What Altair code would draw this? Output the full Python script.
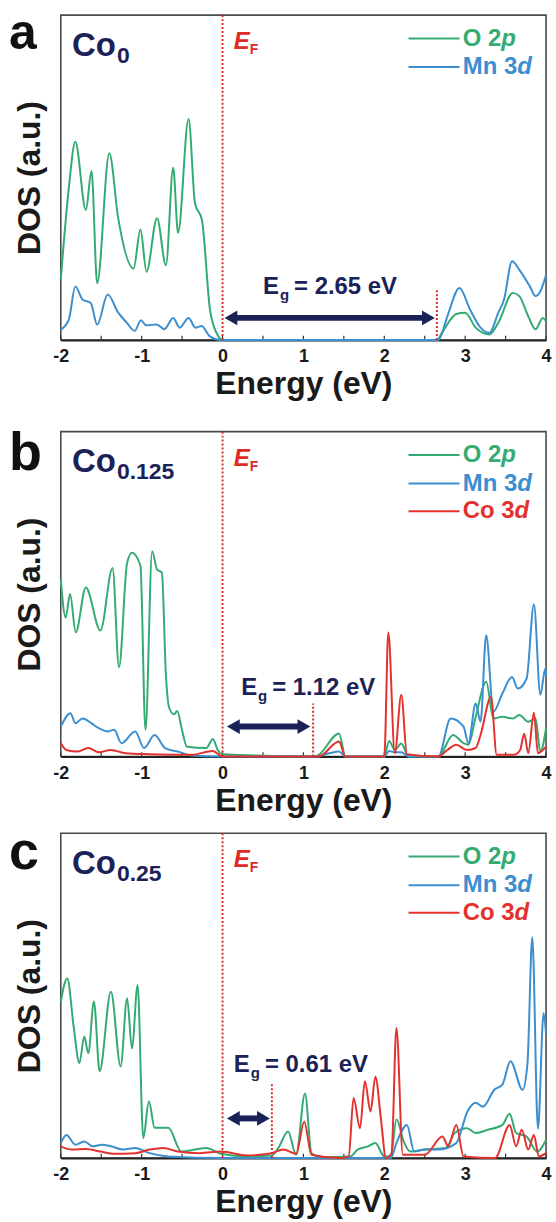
import altair as alt
import pandas as pd

FONT = "Liberation Sans"
NAVY = "#1b2257"
GREEN = "#34ab72"
BLUE = "#3b8fd0"
RED = "#e3322d"
EF_RED = "#e02a26"
SPECIES = ["O 2p", "Mn 3d", "Co 3d"]
SP_COLORS = [GREEN, BLUE, RED]
TICKS = [-2, -1, 0, 1, 2, 3, 4]
MINOR = [-2, -1.5, -1, -0.5, 0, 0.5, 1, 1.5, 2, 2.5, 3, 3.5, 4]

# ---------------- panel a (Co0) ----------------
A_O2P_E = [-2.0, -1.9, -1.82, -1.69, -1.62, -1.55, -1.40, -1.29, -1.10, -1.015, -0.94, -0.81, -0.70, -0.61, -0.55,
           -0.42, -0.34, -0.255, -0.155, -0.07, 0.0, 2.65, 2.72, 2.89, 3.0, 3.13, 3.30, 3.41, 3.59, 3.67, 3.78, 3.87, 3.96, 4.0]
A_O2P_D = [18.6, 47, 61, 40, 52, 17.5, 57.5, 37.5, 22, 34, 21, 37.5, 23, 53, 33,
           68, 42, 37, 9.3, 2, 0, 0, 2.5, 8, 8.4, 3.8, 1.7, 5.3, 14.5, 13.5, 7.3, 3.3, 6.8, 5.8]
A_MN3D_E = [-2.0, -1.9, -1.82, -1.73, -1.63, -1.55, -1.42, -1.29, -1.19, -1.085, -1.01, -0.945, -0.815, -0.72, -0.61,
            -0.53, -0.42, -0.335, -0.26, -0.16, -0.03, 2.67, 2.78, 2.93, 3.06, 3.19, 3.30, 3.41, 3.48, 3.58, 3.67, 3.80,
            3.87, 3.93, 4.0]
A_MN3D_D = [3.2, 6.3, 16.5, 12.4, 11.4, 4.7, 14, 8.4, 5.5, 2.8, 6.1, 4.5, 4.8, 3.3, 6.8,
            3.8, 6.8, 3.8, 4.3, 1.2, 0, 0, 7.3, 16, 9.4, 3.8, 2.2, 8.4, 12.4, 24.2, 21.6, 16.5,
            13.5, 15, 20]

# ---------------- panel b (Co0.125) ----------------
B_O2P_E = [-2.0, -1.94, -1.885, -1.815, -1.69, -1.51, -1.36, -1.28, -1.18, -1.12, -1.015, -0.953, -0.87, -0.81, -0.75,
           -0.70, -0.66, -0.6, -0.56, -0.5, -0.44, -0.2, -0.12, -0.06, 0.0, 1.15, 1.19, 1.44, 1.52, 2.0, 2.06, 2.13,
           2.21, 2.30, 2.67, 2.85, 2.98, 3.04, 3.13, 3.26, 3.35, 3.46, 3.59, 3.67, 3.78, 3.87, 3.93, 4.0]
B_O2P_D = [54.5, 42.8, 50, 38.2, 52, 38.8, 58, 27.5, 59.6, 62.7, 58.7, 8.2, 63.2, 57.6, 56.6,
           25, 15, 13, 14, 8, 3, 2.6, 5.4, 2, 0.7, 0, 0.5, 7.1, 0, 0, 4.8, 2,
           4, 0, 0, 6.6, 4.1, 3.6, 12.2, 23, 11.7, 12.2, 11.7, 12.8, 10.7, 11.7, 1.5, 8.7]
B_MN3D_E = [-2.0, -1.88, -1.82, -1.73, -1.62, -1.53, -1.42, -1.34, -1.25, -1.08, -0.97, -0.84, -0.71, -0.55, -0.38,
            0.0, 1.15, 1.32, 1.44, 1.52, 2.0, 2.06, 2.13, 2.21, 2.30, 2.67, 2.82, 2.98, 3.04, 3.13, 3.19, 3.26,
            3.35, 3.46, 3.58, 3.65, 3.76, 3.85, 3.93, 3.99, 4.0]
B_MN3D_D = [9.2, 13.3, 10.2, 11.7, 10.2, 8.7, 7.7, 8.2, 4.1, 7.7, 2.6, 6.6, 2.6, 1.5, 0.3,
            0, 0, 1, 1.5, 0, 0, 1.7, 1.3, 1.3, 0, 0, 11.7, 9.2, 4.1, 16.3, 10.7, 37.3,
            13.8, 19.4, 24.5, 20.9, 24, 46.9, 19, 27, 24.5]
B_CO3D_E = [-2.0, -1.93, -1.80, -1.66, -1.53, -1.38, -1.2, -0.9, -0.38, -0.12, 0.0, 1.19, 1.44, 1.52, 2.0, 2.05,
            2.13, 2.21, 2.28, 2.67, 2.78, 2.89, 3.02, 3.13, 3.19, 3.32, 3.39, 3.6, 3.68, 3.73, 3.78, 3.85, 3.9, 4.0]
B_CO3D_D = [4.1, 2, 1.5, 2.6, 1.3, 2, 1, 0.7, 0.5, 1.7, 0, 0, 4.6, 0, 0, 38.2,
            1, 19, 0.7, 0, 2, 3.6, 2, 2.6, 6.6, 18.3, 0.5, 0.5, 2, 7, 1, 13.5, 1, 3]

# ---------------- panel c (Co0.25) ----------------
C_O2P_E = [-2.0, -1.92, -1.84, -1.77, -1.71, -1.66, -1.59, -1.52, -1.38, -1.26, -1.18, -1.12, -1.05, -0.98, -0.91,
           -0.84, -0.67, -0.51, -0.2, -0.02, 0.3, 0.61, 0.69, 0.81, 0.91, 1.02, 1.10, 1.21, 1.58, 1.67, 1.80, 1.89,
           2.0, 2.08, 2.15, 2.24, 2.32, 2.50, 2.76, 2.87, 3.02, 3.13, 3.28, 3.46, 3.55, 3.63, 3.76, 3.89, 4.0]
C_O2P_D = [48.2, 55.3, 40.3, 29.2, 37.4, 32.3, 48.2, 26.7, 51.2, 28.2, 49.2, 33.8, 53.3, 6.2, 17.5,
           9.3, 9.3, 2, 3.1, 1.3, 0.5, 0.8, 3.1, 8.2, 1, 19.9, 1.5, 0.3, 0.5, 2.6, 3.6, 4.6,
           0.5, 0.5, 11.9, 5.1, 2, 2.6, 3.1, 7.7, 9.2, 7.7, 8.7, 10.2, 13.6, 7.7, 6.6, 2, 5.6]
C_MN3D_E = [-2.0, -1.93, -1.82, -1.71, -1.60, -1.49, -1.38, -1.23, -1.08, -0.9, -0.68, 0.0, 2.08, 2.15, 2.28, 2.37,
            2.5, 2.67, 2.89, 3.03, 3.13, 3.22, 3.36, 3.46, 3.56, 3.71, 3.77, 3.83, 3.90, 3.97, 4.0]
C_MN3D_D = [4.6, 7.1, 4.1, 5.1, 3.6, 4.1, 3.6, 2.6, 3.1, 1.5, 0.5, 0, 0, 4.6, 10.2, 2,
            2.6, 2.6, 4.6, 14.4, 17, 15.8, 21, 22.6, 29.8, 21, 29, 68, 9, 44.6, 38.3]
C_CO3D_E = [-2.0, -1.86, -1.69, -1.51, -1.34, -1.08, -0.9, -0.73, -0.55, -0.28, -0.02, 0.3, 0.61, 0.75, 0.91, 1.01,
            1.10, 1.45, 1.56, 1.62, 1.70, 1.76, 1.83, 1.89, 1.96, 2.02, 2.09, 2.15, 2.23, 2.5, 2.72, 2.79, 2.89,
            2.98, 3.37, 3.55, 3.63, 3.70, 3.78, 3.85, 3.91, 4.0]
C_CO3D_D = [3.6, 2.6, 2.8, 2, 1.3, 1.5, 2.6, 3.1, 2, 1.5, 2, 0.8, 1.5, 2.6, 1.3, 11.2,
            1, 0, 0.5, 18.5, 9.2, 23.6, 14.3, 25, 11.7, 0, 1.5, 40, 1, 1, 6.6, 3.6, 10.2,
            0.5, 0, 10.2, 3.6, 8.7, 2.6, 7.1, 0.5, 1.5]

# band gaps and annotation positions (energy, DOS %)
PANELS = [
    dict(letter="a", sub="0", eg=2.65, eg_txt="2.65", eg_top=15.5, arrow=(0.03, 2.62, 6.8), eg_pos=(0.50, 14.0),
         letter_base=34, letter_size=50, spacer=12,
         series={"O 2p": (A_O2P_E, A_O2P_D), "Mn 3d": (A_MN3D_E, A_MN3D_D)}),
    dict(letter="b", sub="0.125", eg=1.12, eg_txt="1.12", eg_top=16.3, arrow=(0.06, 1.08, 9.2), eg_pos=(0.23, 18.9),
         letter_base=38, letter_size=54, spacer=24,
         series={"O 2p": (B_O2P_E, B_O2P_D), "Mn 3d": (B_MN3D_E, B_MN3D_D), "Co 3d": (B_CO3D_E, B_CO3D_D)}),
    dict(letter="c", sub="0.25", eg=0.61, eg_txt="0.61", eg_top=23.0, arrow=(0.06, 0.58, 12.2), eg_pos=(0.14, 26.5),
         letter_base=36, letter_size=54, spacer=9,
         series={"O 2p": (C_O2P_E, C_O2P_D), "Mn 3d": (C_MN3D_E, C_MN3D_D), "Co 3d": (C_CO3D_E, C_CO3D_D)}),
]
LEGEND_ROWS = [92.8, 84.0, 75.5]
LEGEND_X = (2.30, 2.93, 2.97)

# approximate Arial-bold advance widths (em) for placing mixed-style text
W = {"O": .778, "M": .833, "C": .722, "n": .611, "o": .611, " ": .278, "2": .556, "3": .556, "E": .667, "g": .611}


def tw(s, size):
    return sum(W.get(ch, .556) for ch in s) * size


def xe():
    return alt.X("E:Q", scale=alt.Scale(domain=[-2, 4], nice=False, zero=False),
                 axis=alt.Axis(values=TICKS, labelExpr="'' + datum.value", labelFont=FONT, labelFontSize=18,
                               labelFontWeight="bold", labelColor="#1a1a1a", labelPadding=8, labelFlush=False,
                               tickSize=0, domainColor="#222222", domainWidth=2, grid=False,
                               title="Energy (eV)", titleFont=FONT, titleFontSize=32, titleFontWeight="bold",
                               titleColor="#1a1a1a", titlePadding=3))


def ye():
    return alt.Y("D:Q", scale=alt.Scale(domain=[0, 100], nice=False),
                 axis=alt.Axis(labels=False, ticks=False, domain=False, grid=False, title="DOS (a.u.)",
                               titleFont=FONT, titleFontSize=32, titleFontWeight="bold", titleColor="#1a1a1a",
                               titlePadding=14))


def text(E, D, s, size, color, italic=False, dx=0, dy=0, align="left", baseline="alphabetic"):
    return alt.Chart(pd.DataFrame({"E": [E], "D": [D], "t": [s]})).mark_text(
        font=FONT, fontSize=size, fontWeight="bold", fontStyle="italic" if italic else "normal", color=color,
        align=align, baseline=baseline, dx=dx, dy=dy).encode(x=xe(), y=ye(), text="t:N")


def build(p):
    rows = []
    for sp, (es, ds) in p["series"].items():
        for e, d in zip(es, ds):
            rows.append({"E": e, "D": d, "s": sp})
    df = pd.DataFrame(rows)
    layers = []
    # inward minor ticks
    layers.append(alt.Chart(pd.DataFrame({"E": MINOR, "D": [0] * len(MINOR), "D2": [1.3] * len(MINOR)}))
                  .mark_rule(color="#333333", strokeWidth=1.2).encode(x=xe(), y=ye(), y2="D2:Q"))
    layers.append(alt.Chart(df).mark_line(interpolate="monotone", strokeWidth=2).encode(
        x=xe(), y=ye(), color=alt.Color("s:N", scale=alt.Scale(domain=SPECIES, range=SP_COLORS), legend=None)))
    # Fermi level
    layers.append(alt.Chart(pd.DataFrame({"E": [0], "D": [0], "D2": [100]})).mark_rule(
        color=EF_RED, strokeDash=[2, 2], strokeWidth=2).encode(x=xe(), y=ye(), y2="D2:Q"))
    # CBM line
    layers.append(alt.Chart(pd.DataFrame({"E": [p["eg"]], "D": [0], "D2": [p["eg_top"]]})).mark_rule(
        color=EF_RED, strokeDash=[2, 2], strokeWidth=2).encode(x=xe(), y=ye(), y2="D2:Q"))
    # arrow
    a0, a1, ay = p["arrow"]
    layers.append(alt.Chart(pd.DataFrame({"E": [a0], "E2": [a1], "D": [ay]})).mark_rule(
        color=NAVY, strokeWidth=6, xOffset=8, x2Offset=-8).encode(x=xe(), x2="E2:Q", y=ye()))
    layers.append(alt.Chart(pd.DataFrame({"E": [a0], "D": [ay]})).mark_point(
        shape="triangle-left", filled=True, size=220, color=NAVY, opacity=1, xOffset=6).encode(x=xe(), y=ye()))
    layers.append(alt.Chart(pd.DataFrame({"E": [a1], "D": [ay]})).mark_point(
        shape="triangle-right", filled=True, size=220, color=NAVY, opacity=1, xOffset=-6).encode(x=xe(), y=ye()))
    # Eg label
    ex, eyy = p["eg_pos"]
    layers.append(text(ex, eyy, "E", 24, NAVY))
    layers.append(text(ex, eyy, "g", 15, NAVY, dx=tw("E", 24) + 1, dy=6))
    layers.append(text(ex, eyy, "= " + p["eg_txt"] + " eV", 24, NAVY, dx=tw("E", 24) + tw("g", 15) + 6))
    # E_F label
    layers.append(text(0.14, 89.5, "E", 24, EF_RED, italic=True))
    layers.append(text(0.14, 89.5, "F", 14, EF_RED, dx=16, dy=5))
    # Co label
    layers.append(text(-1.86, 87.5, "Co", 33, NAVY))
    layers.append(text(-1.86, 87.5, p["sub"], 23, NAVY, dx=tw("Co", 33) + 1, dy=7))
    # legend
    for i, sp in enumerate(p["series"].keys()):
        col = SP_COLORS[SPECIES.index(sp)]
        yv = LEGEND_ROWS[i]
        layers.append(alt.Chart(pd.DataFrame({"E": [LEGEND_X[0]], "E2": [LEGEND_X[1]], "D": [yv]})).mark_rule(
            color=col, strokeWidth=2).encode(x=xe(), x2="E2:Q", y=ye()))
        head, tail = sp[:-1], sp[-1]
        layers.append(text(LEGEND_X[2], yv, head, 24, col, baseline="middle"))
        layers.append(text(LEGEND_X[2], yv, tail, 24, col, italic=True, baseline="middle", dx=tw(head, 24)))
    # panel letter
    layers.append(alt.Chart(pd.DataFrame({"t": [p["letter"]]})).mark_text(
        font=FONT, fontSize=p["letter_size"], fontWeight="bold", color="#111111", align="left",
        baseline="alphabetic").encode(x=alt.value(-52), y=alt.value(p["letter_base"]), text="t:N"))
    # white spacer that fixes the panel's top bound
    layers.append(alt.Chart(pd.DataFrame({"t": ["."]})).mark_text(
        fontSize=8, color="white", align="left", baseline="top").encode(
        x=alt.value(200), y=alt.value(-p["spacer"]), text="t:N"))
    return alt.layer(*layers).properties(width=487, height=326)


chart = alt.vconcat(*[build(p) for p in PANELS], spacing=6).properties(
    padding={"left": 8, "top": 0, "right": 4, "bottom": 0}, background="white"
).configure_view(stroke="#4a4a4a", strokeWidth=1.6)

chart.save("out.html", embed_options={"renderer": "svg", "actions": False})
